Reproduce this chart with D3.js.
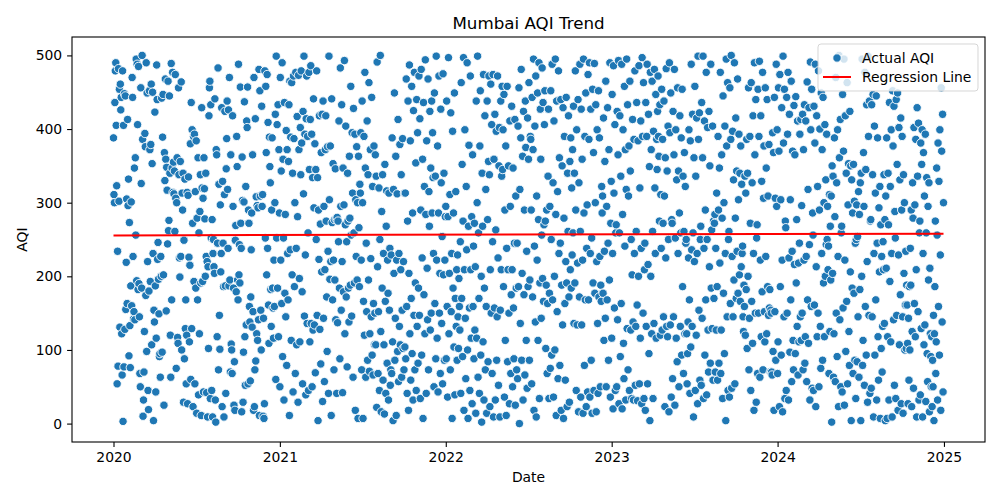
<!DOCTYPE html>
<html>
<head>
<meta charset="utf-8">
<script src="https://cdn.jsdelivr.net/npm/d3@7"></script>
<style>
  body { margin: 0; background: #fff; }
  svg { display: block; font-family: "DejaVu Sans", sans-serif; }
</style>
</head>
<body>
<div class="container"></div>
<script>
// daily AQI readings, consecutive days starting 2020-01-01
const aqi2020a = [388, 311, 300, 436, 479, 490, 405, 323, 54, 234, 78, 482, 302,
  454, 131, 461, 426, 443, 122, 66, 479, 3, 405, 77, 448, 128,
  445, 155, 219, 305, 163, 413, 296, 332, 92, 273, 133, 76, 187, 301, 160,
  470, 443, 227, 142, 152, 347, 141, 361, 256, 495, 194, 488, 406, 182, 485, 190, 145,
  68, 50, 456, 326, 184, 500, 386, 10, 32, 70, 125, 394, 376, 174, 490, 98, 449, 220, 45, 19, 180, 452, 372,
  193, 379, 461, 107, 353, 450, 231, 4, 154, 138, 423, 187, 43, 116, 487, 440, 223, 246, 196, 149, 91, 95, 63, 227, 200, 442, 97,
  389, 447, 202, 25, 368, 330, 468, 359, 153, 348, 317, 244, 465, 262, 276, 445, 340, 120, 63, 489, 168, 347, 477, 314, 355, 312, 343, 261, 474,
  306, 75, 300, 361, 117, 109, 456, 338, 225, 199, 356, 227, 464, 100, 313, 290, 340, 29, 249, 88, 332, 129, 168, 54, 120, 314, 27, 310, 335, 226, 111, 215, 380, 60];
const aqi2020b = [436, 129, 399, 272, 23, 390, 193, 393, 54, 315, 184, 384, 14, 279, 168, 361, 39, 259, 122,
  288, 338, 191, 11, 429, 320, 193, 306, 43, 361, 319, 278, 200, 340, 227, 42, 220, 9, 213, 102, 418, 456, 465,
  34, 433, 252, 45, 277, 9, 231, 250, 213, 204, 441, 32, 2, 372, 365,
  118, 245, 483, 73, 325, 147, 101, 297, 206, 231, 429, 23, 329, 245, 186, 9, 311, 424, 187, 41,
  346, 387, 438, 318, 238, 426, 187, 470, 195, 70, 365, 108, 100, 68, 418, 295, 184, 25, 84, 18,
  249, 269, 179, 390, 349, 195, 168, 488, 202, 243, 191, 457, 272, 238, 16, 362, 303, 29, 97, 301,
  437, 118, 52, 322, 134, 411, 402, 457, 54, 290, 272, 159, 138, 58, 172, 236, 286, 131, 365, 152, 18, 470, 23, 73, 414, 85,
  308, 122, 296, 113, 293, 141, 481, 11, 452, 309, 154, 100, 431, 295, 311, 10, 143, 7, 27, 479,
  252, 458, 368, 202, 474, 238, 409, 161, 109, 389, 349, 327, 182, 132, 290, 388, 184, 157, 116, 222, 159, 300, 420, 60];
const aqi2021a = [499, 252, 406, 184, 433, 118, 372, 286, 50, 470, 222, 343, 163, 490, 91, 359, 252, 32, 436, 177, 284, 145, 398, 79, 372, 231, 168, 356, 433, 11,
  465, 236, 389, 113, 463, 202, 340, 43, 472, 387, 186, 300, 68, 477, 238, 107, 417, 281, 29, 473, 372, 197, 111, 402, 338,
  479, 381, 179, 54, 424, 312, 499, 146, 393, 229, 39, 414, 472, 136, 390, 259, 45, 477, 345, 111, 413, 486, 136, 393, 50, 334, 127,
  441, 293, 134, 380, 69, 345, 250, 479, 147, 334, 4, 290, 223, 418, 128, 271, 81, 368, 206, 420, 30, 438, 143, 295, 57, 209, 372,
  418, 275, 172, 98, 376, 234, 41, 499, 304, 196, 377, 220, 11, 441, 273, 168, 353, 222, 73, 277, 195, 346, 141, 278, 41, 280, 137, 275,
  247, 411, 184, 88, 483, 295, 154, 433, 220, 42, 347, 179, 297, 493, 122, 270, 404, 172, 247, 77, 340, 275, 184, 138, 363, 279, 188,
  458, 256, 146, 395, 313, 63, 428, 259, 191, 393, 18, 304, 227, 376, 195, 300, 7, 363, 266, 186, 325, 313, 395];
const aqi2021b = [222, 73, 438, 300, 7, 166, 390, 120, 477, 347, 63, 245, 152, 411, 86, 338, 195, 463, 71, 122, 372, 224, 145, 443, 93, 322, 66, 163, 377, 107, 150, 365,
  107, 336, 22, 491, 213, 68, 152, 320, 45, 250, 500, 125, 16, 288, 184, 338, 59, 231, 107, 13, 352, 166, 41, 268, 316, 82, 222, 177, 32, 313, 154, 238, 52, 73,
  229, 68, 388, 111, 4, 318, 204, 449, 86, 143, 363, 11, 222, 312, 98, 413, 57, 231, 132, 379, 107, 209, 338, 63, 154, 387, 102, 220, 73, 313, 104,
  313, 88, 468, 159, 41, 275, 438, 18, 204, 487, 122, 384, 59, 170, 458, 95, 286, 32, 425, 147, 477, 73, 191, 354, 45, 440, 132, 395, 82, 184, 472,
  147, 414, 34, 290, 481, 93, 225, 359, 7, 436, 175, 322, 122, 494, 284, 41, 384, 211, 141, 468, 73, 315, 268, 424, 127, 347, 150, 438, 286, 395, 334,
  231, 50, 449, 163, 336, 88, 499, 222, 116, 377, 43, 286, 472, 150, 204, 68, 427, 327, 136, 254, 54, 475, 202, 340, 86, 222, 281];
const aqi2022a = [295, 88, 438, 159, 36, 281, 497, 122, 204, 311, 73, 422, 152, 231, 7, 397, 184, 286, 104, 449, 39, 170, 315, 132, 209, 86, 229, 145, 102, 197, 159, 127,
  247, 41, 463, 170, 352, 91, 275, 497, 18, 209, 399, 143, 61, 322, 236, 490, 100, 7, 268, 378, 157, 45, 472, 209, 116, 281, 27, 365, 159, 241, 88, 272, 127,
  213, 14, 438, 116, 300, 499, 63, 259, 170, 41, 377, 452, 93, 200, 2, 340, 268, 111, 474, 32, 184, 418, 73, 318, 159, 14, 438, 277, 84, 356, 472,
  338, 23, 209, 461, 150, 406, 68, 247, 474, 9, 359, 157, 420, 32, 263, 397, 86, 145, 472, 225, 52, 350, 402, 9, 154, 438, 209, 336, 458, 345, 399,
  186, 447, 36, 290, 113, 377, 11, 238, 458, 84, 209, 350, 150, 27, 411, 295, 68, 175, 431, 209, 50, 347, 157, 88, 245, 413, 25, 309, 184, 73,
  245, 61, 404, 186, 456, 0, 318, 136, 388, 481, 86, 204, 363, 32, 424, 175, 290, 66, 438, 375, 113, 234, 48, 415, 186, 359, 463, 86, 195, 390, 386];
const aqi2022b = [290, 54, 443, 172, 372, 495, 18, 241, 404, 138, 472, 9, 309, 222, 449, 113, 277, 490, 34, 191, 427, 359, 143, 256, 483, 197, 436, 166, 270, 406, 452,
  275, 102, 188, 290, 68, 163, 336, 427, 34, 177, 295, 75, 452, 250, 93, 488, 168, 327, 36, 411, 200, 100, 495, 284, 11, 438, 152, 315, 61, 479, 231,
  361, 79, 245, 440, 18, 188, 350, 134, 429, 7, 279, 390, 163, 59, 220, 443, 191, 23, 340, 261, 418, 172, 29, 356, 209, 388, 184, 320, 229,
  372, 259, 431, 136, 340, 191, 479, 290, 45, 399, 134, 218, 440, 16, 327, 172, 488, 261, 36, 427, 134, 359, 222, 14, 495, 286, 79, 390, 168, 449, 23, 238,
  297, 43, 474, 168, 386, 490, 36, 231, 427, 86, 252, 14, 454, 191, 368, 45, 489, 177, 300, 433, 16, 220, 399, 136, 41, 452, 172, 388, 227, 50, 188, 166,
  322, 286, 309, 177, 415, 113, 234, 356, 143, 465, 50, 295, 168, 429, 245, 86, 372, 195, 490, 36, 272, 329, 116, 447, 231, 20, 486, 313, 157, 406, 45, 259];
const aqi2023a = [270, 50, 424, 141, 365, 493, 27, 259, 418, 91, 336, 163, 488, 20, 284, 399, 109, 61, 458, 241, 372, 32, 318, 495, 129, 433, 73, 309, 377, 45, 465, 343,
  127, 250, 34, 202, 413, 138, 32, 386, 231, 479, 52, 132, 261, 436, 161, 31, 384, 200, 486, 54, 320, 116, 411, 238, 27, 497, 390, 150, 463, 34, 209,
  245, 18, 436, 132, 390, 488, 54, 216, 420, 95, 349, 4, 477, 200, 372, 122, 465, 261, 34, 397, 136, 481, 320, 231, 447, 116, 386, 345, 424, 472,
  390, 363, 275, 433, 120, 311, 238, 454, 127, 386, 272, 145, 438, 309, 23, 361, 225, 482, 132, 343, 118, 404, 250, 16, 490, 395, 134, 449, 36, 277,
  272, 61, 424, 145, 365, 481, 25, 252, 399, 116, 331, 84, 456, 231, 343, 50, 286, 418, 132, 259, 388, 93, 454, 186, 336, 68, 261, 368, 122, 322, 245, 250,
  122, 54, 95, 138, 225, 399, 168, 41, 384, 104, 488, 236, 132, 420, 259, 9, 361, 220, 458, 45, 336, 120, 415, 231, 27, 499, 386, 154, 422, 59, 250];
const aqi2023b = [268, 52, 436, 143, 361, 499, 34, 238, 411, 93, 290, 168, 477, 39, 250, 402, 127, 70, 424, 213, 350, 82, 488, 184, 263, 129, 404, 59, 275, 170,
  272, 284, 70, 238, 127, 313, 186, 59, 390, 290, 82, 347, 218, 477, 68, 127, 365, 279, 34, 445, 177, 300, 95, 404, 231, 4, 495, 377, 145, 463, 45, 250,
  261, 36, 456, 163, 386, 500, 48, 227, 397, 145, 331, 195, 490, 54, 279, 415, 170, 343, 234, 468, 177, 304, 393, 202, 340, 166, 377, 213, 325, 231, 241,
  145, 125, 188, 159, 336, 120, 313, 182, 386, 102, 340, 200, 456, 73, 143, 390, 272, 45, 463, 166, 327, 109, 418, 231, 18, 490, 365, 150, 440, 29, 252,
  270, 68, 454, 150, 390, 492, 63, 222, 418, 118, 329, 179, 477, 73, 306, 377, 152, 111, 456, 227, 347, 122, 440, 186, 309, 147, 379, 157, 182, 70, 154, 150,
  70, 66, 395, 98, 368, 18, 443, 152, 306, 86, 488, 295, 399, 68, 111, 456, 370, 23, 474, 186, 304, 93, 429, 222, 16, 499, 381, 145, 454, 34, 275];
const aqi2024a = [266, 45, 443, 150, 393, 477, 32, 225, 420, 97, 304, 168, 465, 57, 234, 370, 113, 73, 432, 216, 365, 95, 444, 191, 277, 132, 411, 66, 218, 111,
  245, 393, 145, 413, 113, 296, 150, 420, 73, 372, 222, 433, 82, 118, 411, 227, 57, 464, 168, 318, 109, 429, 243, 32, 491, 399, 159, 454, 48, 286,
  256, 45, 431, 161, 381, 488, 23, 213, 418, 118, 322, 150, 479, 50, 290, 400, 132, 75, 449, 231, 372, 86, 443, 191, 300, 118, 406, 200, 331, 243, 393,
  250, 295, 209, 241, 68, 311, 125, 268, 195, 309, 2, 350, 204, 336, 63, 122, 388, 281, 57, 470, 150, 327, 91, 399, 227, 23, 500, 361, 141, 413, 50, 259,
  268, 43, 447, 157, 370, 495, 25, 222, 418, 98, 340, 166, 463, 54, 297, 353, 125, 79, 424, 206, 350, 4, 331, 184, 286, 68, 352, 177, 302, 86, 245, 34,
  250, 297, 84, 254, 145, 315, 63, 284, 182, 327, 4, 340, 200, 495, 79, 113, 368, 295, 52, 477, 159, 345, 93, 433, 220, 29, 499, 390, 147, 438, 41, 275];
const aqi2024b = [277, 48, 433, 145, 338, 447, 9, 231, 404, 93, 313, 168, 445, 32, 245, 388, 118, 59, 293, 206, 322, 7, 270, 102, 227, 70, 132,
  247, 209, 338, 136, 277, 4, 309, 211, 388, 7, 118, 340, 270, 32, 436, 193, 322, 111, 399, 231, 9, 452, 377, 141, 431, 52, 288,
  252, 34, 440, 147, 352, 449, 18, 229, 402, 107, 331, 175, 415, 27, 290, 390, 145, 14, 338, 204, 300, 100, 161, 234, 102, 188, 161,
  109, 27, 143, 59, 186, 100, 238, 188, 290, 23, 125, 327, 279, 48, 402, 163, 297, 118, 386, 209, 9, 429, 336, 152, 408, 32, 259,
  275, 39, 381, 129, 352, 399, 9, 231, 368, 107, 309, 134, 393, 30, 259, 334, 95, 57, 295, 195, 327, 16, 211, 122, 91, 50, 118,
  23, 86, 50, 147, 4, 122, 186, 275, 68, 111, 347, 256, 32, 381, 159, 329, 93, 399, 229, 18, 456, 370, 138, 420, 43, 300];

const startDate = '2020-01-01';
const yearTicks = [2020, 2021, 2022, 2023, 2024, 2025];
const aqiTicks = [0, 100, 200, 300, 400, 500];
// fitted line, AQI at first and last day
const regressionAqi = [255.6, 257.8];

const width = 1000;
const height = 500;
const margin = { top: 37, right: 15, bottom: 58, left: 72 };
const innerW = width - margin.left - margin.right;
const innerH = height - margin.top - margin.bottom;
const fs = 13.9;

const t0 = new Date(startDate + 'T00:00:00Z');
const aqi = [].concat(aqi2020a, aqi2020b, aqi2021a, aqi2021b, aqi2022a, aqi2022b,
  aqi2023a, aqi2023b, aqi2024a, aqi2024b);
const points = aqi.map((v, i) => ({ date: d3.utcDay.offset(t0, i), aqi: v }));

const svg = d3.select('.container')
  .append('svg')
  .attr('width', width)
  .attr('height', height);

svg.append('rect').attr('width', width).attr('height', height).attr('fill', '#fff');

const g = svg.append('g')
  .attr('transform', `translate(${margin.left}, ${margin.top})`);

const dateExt = d3.extent(points, d => d.date);
const dPad = (dateExt[1] - dateExt[0]) * 0.05;
const xScale = d3.scaleUtc()
  .domain([new Date(+dateExt[0] - dPad), new Date(+dateExt[1] + dPad)])
  .range([0, innerW]);

const aqiExt = d3.extent(aqi);
const aPad = (aqiExt[1] - aqiExt[0]) * 0.05;
const yScale = d3.scaleLinear()
  .domain([aqiExt[0] - aPad, aqiExt[1] + aPad])
  .range([innerH, 0]);

const xAxis = d3.axisBottom(xScale)
  .tickValues(yearTicks.map(y => new Date(Date.UTC(y, 0, 1))))
  .tickFormat(d3.utcFormat('%Y'))
  .tickSize(4.9)
  .tickPadding(4.9)
  .tickSizeOuter(0);

const yAxis = d3.axisLeft(yScale)
  .tickValues(aqiTicks)
  .tickSize(4.9)
  .tickPadding(4.9)
  .tickSizeOuter(0);

const gX = g.append('g')
  .attr('transform', `translate(0, ${innerH})`)
  .call(xAxis);
const gY = g.append('g').call(yAxis);

[gX, gY].forEach(ax => {
  ax.select('.domain').remove();
  ax.selectAll('.tick line').attr('stroke', '#000').attr('stroke-width', 1.1);
  ax.selectAll('.tick text')
    .attr('fill', '#000')
    .style('font-size', fs + 'px')
    .style('font-family', '"DejaVu Sans", sans-serif');
});

// scatter
g.append('g')
  .selectAll('circle')
  .data(points)
  .join('circle')
  .attr('cx', d => xScale(d.date))
  .attr('cy', d => yScale(d.aqi))
  .attr('r', 4.2)
  .attr('fill', '#1f77b4')
  .attr('stroke', '#fff')
  .attr('stroke-width', 0.9);

// regression line
const line = d3.line()
  .x(d => xScale(d[0]))
  .y(d => yScale(d[1]));
g.append('path')
  .attr('d', line([[dateExt[0], regressionAqi[0]], [dateExt[1], regressionAqi[1]]]))
  .attr('fill', 'none')
  .attr('stroke', 'red')
  .attr('stroke-width', 2);

// frame
g.append('rect')
  .attr('x', 0).attr('y', 0)
  .attr('width', innerW).attr('height', innerH)
  .attr('fill', 'none')
  .attr('stroke', '#000')
  .attr('stroke-width', 1.1);

// legend
const legend = g.append('g')
  .attr('transform', `translate(${innerW - 7 - 160}, 7)`);
legend.append('rect')
  .attr('width', 160).attr('height', 47)
  .attr('rx', 3)
  .attr('fill', '#fff').attr('fill-opacity', 0.8)
  .attr('stroke', '#ccc').attr('stroke-opacity', 0.8)
  .attr('stroke-width', 1);
legend.append('circle')
  .attr('cx', 19).attr('cy', 14)
  .attr('r', 4.2)
  .attr('fill', '#1f77b4')
  .attr('stroke', '#fff')
  .attr('stroke-width', 0.9);
legend.append('line')
  .attr('x1', 5).attr('x2', 33)
  .attr('y1', 33).attr('y2', 33)
  .attr('stroke', 'red').attr('stroke-width', 2);
legend.selectAll('text.lab')
  .data(['Actual AQI', 'Regression Line'])
  .join('text')
  .attr('class', 'lab')
  .attr('x', 44)
  .attr('y', (d, i) => 19 + i * 19)
  .style('font-size', fs + 'px')
  .text(d => d);

// title & axis labels
svg.append('text')
  .attr('x', margin.left + innerW / 2)
  .attr('y', 29)
  .attr('text-anchor', 'middle')
  .style('font-size', '16.7px')
  .text('Mumbai AQI Trend');

svg.append('text')
  .attr('x', margin.left + innerW / 2)
  .attr('y', 482)
  .attr('text-anchor', 'middle')
  .style('font-size', fs + 'px')
  .text('Date');

svg.append('text')
  .attr('transform', `translate(27, ${margin.top + innerH / 2}) rotate(-90)`)
  .attr('text-anchor', 'middle')
  .style('font-size', fs + 'px')
  .text('AQI');
</script>
</body>
</html>
